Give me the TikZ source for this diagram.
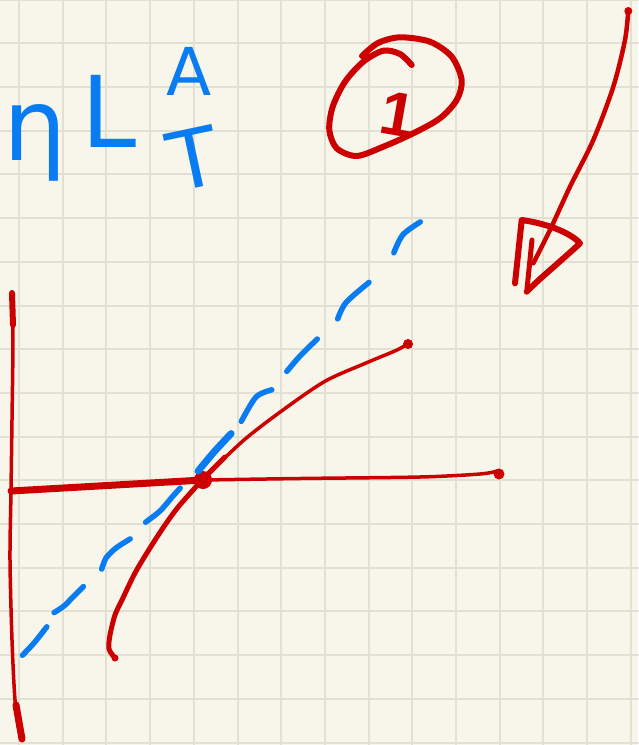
\documentclass[tikz,border=0pt]{standalone}
\usepackage{fontspec}
\setmainfont{DejaVu Sans}
\newfontfamily\onefont{Liberation Sans}
\definecolor{paper}{HTML}{F8F6EA}
\definecolor{gridc}{HTML}{E2E0D3}
\definecolor{ink}{HTML}{CC0000}
\definecolor{pen}{HTML}{0A7CF2}
\begin{document}
\begin{tikzpicture}[x=1pt,y=-1pt, line cap=round, line join=round,
  gridline/.style={draw=gridc, line width=2pt},
  redstroke/.style={draw=ink, line cap=round, line join=round},
  bluedash/.style={draw=pen, line width=5.5pt, line cap=round},
  handtext/.style={text=pen, inner sep=0pt, anchor=base}]
\useasboundingbox (0,0) rectangle (638,745);
\fill[paper] (0,0) rectangle (638,745);
\foreach \k in {0,...,14} \draw[gridline] ({19+43.7*\k},0) -- ({19+43.7*\k},745);
\foreach \k in {-1,...,16} \draw[gridline] (0,{43.3+43.7*\k}) -- (638,{43.3+43.7*\k});

% blue handwriting
\node[handtext, font=\fontsize{100}{100}\selectfont] (eta) at (35,160) {η};
\node[handtext, font=\fontsize{99}{99}\selectfont] (L) at (109,147) {L};
\node[handtext, font=\fontsize{66}{66}\selectfont] (A) at (189,95) {A};
\node[handtext, font=\fontsize{81}{81}\selectfont, rotate=12] (T) at (200,187) {T};

% circled one
\draw[redstroke, line width=6pt] plot[smooth] coordinates {(362,56) (378,43) (400,37.3) (430,41.7) (451.7,56.7) (461.7,80) (456.7,100) (440,118.3) (413.3,133.3) (383.3,146.7) (356.7,156) (336.7,148.3) (329.3,130) (332.7,106.7) (345,81.7) (363.3,61.7) (383.3,50.7) (400,54) (411.7,65)};
\node[text=ink, inner sep=0pt, anchor=base, font=\onefont\bfseries\fontsize{62}{62}\selectfont, rotate=-10] (one) at (394,135) {1};

% arrow
\draw[redstroke, line width=4.5pt] plot[smooth] coordinates {(628.3,10) (625,40) (613.3,86.7) (593.3,140) (570,186.7) (550,230) (533.3,263.3)};
\fill[ink] (628.3,11) circle (4pt);
\draw[redstroke, line width=6pt] (515,283.3) -- (521.7,220) .. controls (550,224) and (572,234) .. (580,243.3) .. controls (560,262) and (540,278) .. (526.7,291.7);
\draw[redstroke, line width=5pt] (532,240) -- (527,289);

% axes
\draw[redstroke, line width=3.5pt] plot[smooth] coordinates {(12,292) (13,340) (12,420) (11,491) (10,560) (12,640) (15,700) (19,730) (22,739)};
\draw[redstroke, line width=6pt] (12,293) -- (13,325);
\draw[redstroke, line width=7pt] (16,705) -- (22,739);
\draw[redstroke, line width=7pt] (11,491) -- (203,480);
\draw[redstroke, line width=3.5pt] plot[smooth] coordinates {(203,480) (300,478.5) (420,477) (480,474) (497,471)};
\fill[ink] (499,474) circle (5.5pt);
\fill[ink] (203,480) circle (9pt);

% red curve
\draw[redstroke, line width=5pt] plot[smooth] coordinates {(115,658) (109,649) (110,635) (115,615) (122,600) (135,573) (150,548) (165,525) (179,506) (203,479)};
\draw[redstroke, line width=5pt] (203,479) -- (225,457);
\draw[redstroke, line width=3.5pt] plot[smooth] coordinates {(203,479) (244,440) (285,408.5) (325.5,381) (366,363) (397,350) (409,343)};
\fill[ink] (115,658) circle (3.5pt);
\fill[ink] (408,344) circle (5pt);

% blue dashed line
\draw[bluedash] plot[smooth] coordinates {(22.4,655.3) (34,643) (46.8,626.8)};
\draw[bluedash] plot[smooth] coordinates {(54.1,612.6) (64,606) (72,598) (83.4,586.5)};
\draw[bluedash] plot[smooth] coordinates {(101.7,569.1) (106,558) (116,548) (130.2,538.9)};
\draw[bluedash] plot[smooth] coordinates {(145.6,522.2) (160,511) (173,496) (180.2,488.1)};
\draw[bluedash, line width=7pt] plot[smooth] coordinates {(198.1,471.1) (214,452) (231.1,433.6)};
\draw[bluedash] plot[smooth] coordinates {(241.3,421.4) (256,397) (271.8,389.8)};
\draw[bluedash] plot[smooth] coordinates {(286.8,371.4) (300,356) (317.3,339)};
\draw[bluedash] plot[smooth] coordinates {(337.7,318.9) (346,302.5) (369,282.4)};
\draw[bluedash] plot[smooth] coordinates {(393.8,252.8) (402.8,234.8) (420.3,221.9)};
\end{tikzpicture}
\end{document}
